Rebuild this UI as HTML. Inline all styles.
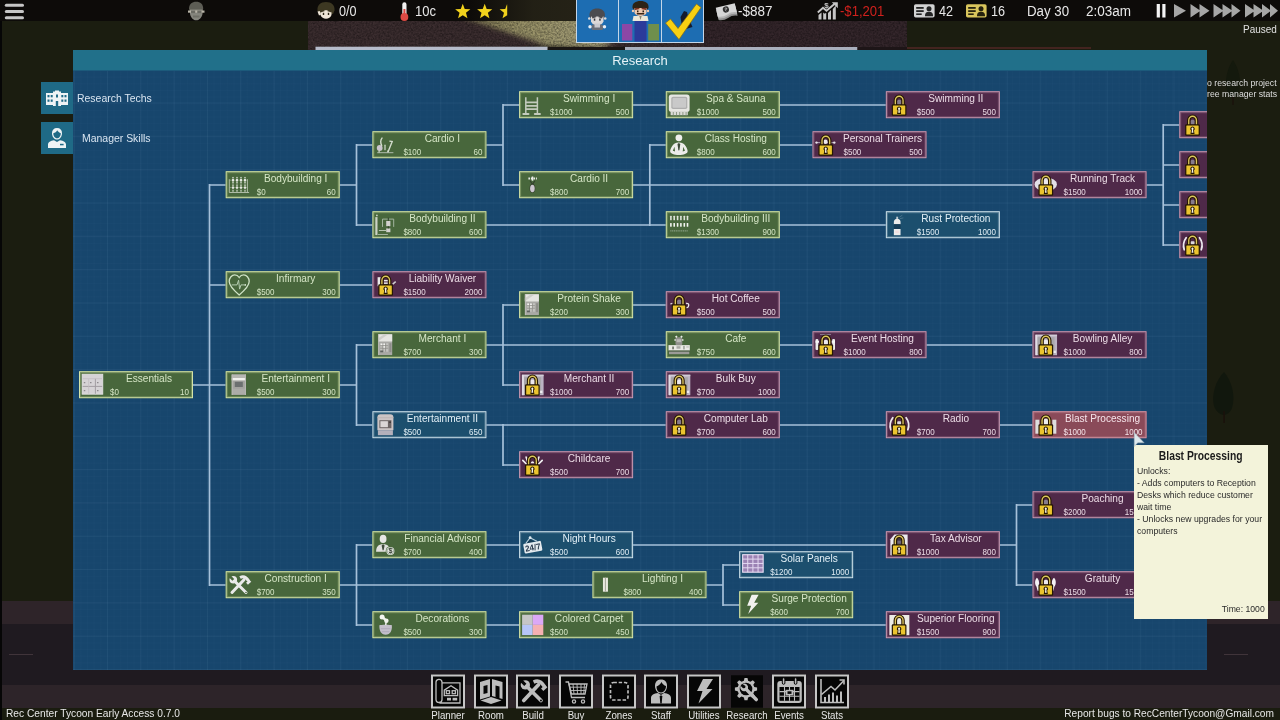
<!DOCTYPE html>
<html><head><meta charset="utf-8"><title>Rec Center Tycoon - Research</title>
<style>
*{margin:0;padding:0;box-sizing:border-box}
html,body{width:1280px;height:720px;overflow:hidden;background:#1b1d10;font-family:"Liberation Sans",sans-serif;}
.abs,.abs>*{position:absolute}
#root{will-change:transform;filter:blur(.35px);position:relative;width:1280px;height:720px;overflow:hidden;background:#1b1d10}
#root>*{position:absolute}
/* background bands */
.band{left:0;width:1280px}
/* top bar */
#topbar{left:0;top:0;width:1280px;height:21px;background:#0d0b09}
.tt{color:#e8e8e8;font-size:14px;line-height:16px;white-space:nowrap;transform-origin:0 0}
/* panel */
#panel{left:73px;top:50px;width:1134px;height:620px;overflow:hidden;background:#17466d}
#pin{position:absolute;left:-73px;top:-50px;width:1280px;height:720px}
#pin>*{position:absolute}
#ptitle{left:73px;top:50px;width:1134px;height:21px;background:#21708a;border-bottom:1px solid #1c5a7b;color:#e6f3f7;font-size:13px;line-height:21px;text-align:center}
#grid{left:73px;top:71px;width:1134px;height:599px;
 background-image:
  linear-gradient(to right,rgba(150,190,225,.06) 0,rgba(150,190,225,.06) 1px,transparent 1px),
  linear-gradient(to top,rgba(150,190,225,.06) 0,rgba(150,190,225,.06) 1px,transparent 1px),
  linear-gradient(to right,rgba(150,190,225,.02) 0,rgba(150,190,225,.02) 1px,transparent 1px),
  linear-gradient(to top,rgba(150,190,225,.02) 0,rgba(150,190,225,.02) 1px,transparent 1px);
 background-size:33.333px 33.333px,33.333px 33.333px,6.6667px 6.6667px,6.6667px 6.6667px;
 background-position:.7px 100%,0 100%,.7px 100%,0 100%;}
.n{position:absolute;left:0;top:0;width:113.7px;height:26.7px;white-space:nowrap}
.n::after{content:"";position:absolute;left:0;top:0;right:0;bottom:0;border:1px solid;}
.n>svg{position:absolute;left:0;top:0}
.n .t{position:absolute;left:26px;width:88px;top:2px;text-align:center;font-size:10px;line-height:12px;transform:scaleX(1.01)}
.n .c{position:absolute;left:30.5px;top:16px;font-size:9px;line-height:10px}
.n .r{position:absolute;right:4px;top:16px;font-size:9px;line-height:10px;text-align:right}
.n .c i{font-style:normal;display:inline-block;transform:scaleX(.89);transform-origin:0 50%}
.n .r i{font-style:normal;display:inline-block;transform:scaleX(.89);transform-origin:100% 50%}
.g{background:#48673c;color:#d6e6c6}
.g::after{border-color:#d4e4a8;box-shadow:inset 0 0 0 1px rgba(212,228,168,.3)}
.p{background:#4f2949;color:#ecdce6}
.p::after{border-color:#c79bb3;box-shadow:inset 0 0 0 1px rgba(199,155,179,.3)}
.h{background:#8a4a59;color:#f6e4ea}
.h::after{border-color:#cf93a2;box-shadow:inset 0 0 0 1px rgba(207,147,162,.3)}
.b{background:#1c4f6e;color:#e2eff6}
.b::after{border-color:#cfe2ec;box-shadow:inset 0 0 0 1px rgba(207,226,236,.3)}
/* side buttons */
.sb{left:41px;width:32px;height:32px;background:#1f6a86}
.sl{color:#d9e5f1;font-size:11px;line-height:12px;white-space:nowrap;transform:scaleX(.95);transform-origin:0 50%}
/* toolbar */
.tb{position:absolute;top:674px;transform:translateY(.5px);width:34px;height:34px;background:#060606;border:2px solid #c6c6c6}
.tb.sel{border-color:#060606;background:#060606;width:32px;height:32px;margin:1px 0 0 1px}.tb.sel>svg{left:-3px;top:-4.2px}
.tb>svg{position:absolute;left:-2px;top:-3.2px}
.tl{position:absolute;top:710px;width:60px;text-align:center;color:#e6e6e6;font-size:10px;line-height:12px;white-space:nowrap;transform:scaleX(.97)}
/* tooltip */
#tip{left:1134px;top:444.5px;width:133.5px;height:174px;background:#f3f3da;color:#222;font-size:9px}
#tip>*{position:absolute;white-space:nowrap}
.foot{color:#e6e6e6;font-size:11px;line-height:12px;white-space:nowrap}
</style></head>
<body>
<div id="root">
 <!-- background bands -->
 <div class="band" style="top:601px;height:23px;background:#2e2429"></div>
 <div class="band" style="top:624px;height:61px;background:#1f1a20"></div>
 <div class="band" style="top:685px;height:23px;background:#2d2429"></div>
 <div class="band" style="top:708px;height:12px;background:#1a1c0f"></div>
 <div style="left:0;top:0;width:2px;height:720px;background:#060606"></div>
 <div style="left:9px;top:653.5px;width:24px;height:1.5px;background:#40343a"></div>
 <div style="left:1224px;top:653.5px;width:24px;height:1.5px;background:#40343a"></div>
 <!-- world strip behind top -->
 <svg id="world" width="599" height="29" viewBox="0 0 599 29" style="left:308px;top:21px">
  <defs>
   <linearGradient id="lit" x1="0" x2="1" y1="0" y2="0"><stop offset="0" stop-color="#6f6848"/><stop offset=".4" stop-color="#979066"/><stop offset="1" stop-color="#a8a27c"/></linearGradient>
   <filter id="bl" x="-20%" y="-50%" width="140%" height="200%"><feGaussianBlur stdDeviation="4 2"/></filter>
   <filter id="nz" x="0" y="0" width="100%" height="100%"><feTurbulence type="fractalNoise" baseFrequency=".55" numOctaves="2" seed="4" result="n"/><feColorMatrix type="matrix" values="0 0 0 0 0  0 0 0 0 0  0 0 0 0 0  .9 .9 .9 0 -1.05"/></filter>
  </defs>
  <rect width="599" height="29" fill="#3b2d2f"/>
  <g filter="url(#bl)"><polygon points="152,-4 300,-4 300,26 244,26" fill="url(#lit)"/><polygon points="150,34 240,24 300,27 300,34" fill="#1c1512"/></g>
  <rect x="396" y="0" width="203" height="29" fill="#34262b"/>
  <rect width="599" height="29" filter="url(#nz)" fill="#000" opacity=".45"/>
  <rect x="7.500" y="25.700" width="232" height="3.300" fill="#b6bccb"/>
  <rect x="240" y="26" width="77" height="3" fill="#1a1614"/>
  <rect x="317" y="26" width="232.500" height="3" fill="#a9afbd"/>
  <rect x="549.500" y="26" width="50" height="3" fill="#1d1517"/>
 </svg>
 <div style="left:907px;top:47px;width:184px;height:2px;background:#43241f"></div>
 <div id="topbar"></div>
 <div style="left:470px;top:0;width:106px;height:21px;background:linear-gradient(to right,rgba(120,115,70,0),rgba(120,115,70,.2) 60%,rgba(120,115,70,.22))"></div>
 
 <svg width="26" height="22" viewBox="0 0 26 22" style="left:0;top:0"><g fill="#c6c6c6"><rect x="4.800" y="3.700" width="19.200" height="3" rx="1.500"/><rect x="4.800" y="10" width="19.200" height="3" rx="1.500"/><rect x="4.800" y="16.200" width="19.200" height="3" rx="1.500"/></g></svg>
 <svg width="20" height="22" viewBox="0 0 20 22" style="left:186px;top:0"><path d="M3 9c0-5 3-7.300 7.200-7.300s7 2.300 7 7.300l-1 3h-12z" fill="#5d5d55"/><path d="M4 9.500h12.500v4.500c-1 4-3.500 6.300-6.300 6.300S5 18 4 14z" fill="#85857d"/><path d="M2 10.500h16.500v2.200h-16.500z" fill="#b9b5a8"/><rect x="5" y="10.500" width="4.200" height="2.600" fill="#6a6a62"/><rect x="11.300" y="10.500" width="4.200" height="2.600" fill="#6a6a62"/><path d="M7 15.500h6.500v2h-6.500z" fill="#6f6f67"/></svg>
 <svg width="20" height="22" viewBox="0 0 20 22" style="left:316px;top:0"><path d="M1.500 10.500c-.5-5.500 3-8.500 8.500-8.500s9 3 8.500 8.500l-1.500 3.500h-14z" fill="#3d3822"/><path d="M4.500 11c3-1 8-1 11 0v4c-1 2.500-3 3.800-5.500 3.800S5.500 17.500 4.500 15z" fill="#efe6d8"/><path d="M1.500 11.500l2.500-.5 1 3.500-2 1z" fill="#efe6d8"/><path d="M3 9.500q3.500-1.500 6 1.500l-4.500 1.500zM17 9.500q-3.500-1.500-6 1.500l4.500 1.500z" fill="#3d3822"/><rect x="6.800" y="12.800" width="1.400" height="2.200" fill="#2b2616"/><rect x="11.800" y="12.800" width="1.400" height="2.200" fill="#2b2616"/></svg>
 <div class="tt" style="left:338.500px;top:3px;transform:scaleX(.9)">0/0</div>
 <svg width="14" height="22" viewBox="0 0 14 22" style="left:398px;top:0"><rect x="4.300" y="2.300" width="4.200" height="13" rx="2.100" fill="#f1f1f1"/><circle cx="6.400" cy="17" r="3.900" fill="#dc4a44"/><rect x="5.400" y="9" width="2" height="7" fill="#dc4a44"/></svg>
 <div class="tt" style="left:415px;top:3px;transform:scaleX(.93)">10c</div>
 <svg width="70" height="22" viewBox="0 0 70 22" style="left:450px;top:0"><polygon points="12.75,3.80 14.72,9.08 20.36,9.33 15.95,12.84 17.45,18.27 12.75,15.16 8.05,18.27 9.55,12.84 5.14,9.33 10.78,9.08" fill="#f2d21c"/><polygon points="34.70,3.80 36.67,9.08 42.31,9.33 37.90,12.84 39.40,18.27 34.70,15.16 30.00,18.27 31.50,12.84 27.09,9.33 32.73,9.08" fill="#f2d21c"/><clipPath id="hs"><rect x="45" y="0" width="12.200" height="22"/></clipPath><g clip-path="url(#hs)"><polygon points="57.20,3.80 59.17,9.08 64.81,9.33 60.40,12.84 61.90,18.27 57.20,15.16 52.50,18.27 54.00,12.84 49.59,9.33 55.23,9.08" fill="#f2d21c"/></g></svg>
 <!-- center tiles -->
 <div style="left:576px;top:0;width:128px;height:42.500px;background:#c4d6e8"></div>
 <div style="left:577px;top:0;width:41px;height:41.500px;background:#1d6db2"></div>
 <div style="left:619px;top:0;width:41.500px;height:41.500px;background:#1d6db2"></div>
 <div style="left:661.500px;top:0;width:41.500px;height:41.500px;background:#1d6db2"></div>
 <svg width="128" height="43" viewBox="0 0 128 43" style="left:576px;top:0">
  <g><path d="M13.500 16c-.5-5 3-7.500 7.700-7.500s8.200 2.500 7.700 7.500l-1.200 3h-13z" fill="#4b4b50"/><path d="M15 16.500h12.500v5c-1 2.500-3.500 4-6.200 4s-5.300-1.500-6.300-4z" fill="#dcd8d8"/><path d="M15.500 16q3-1.300 5 1l-4 1.500zM27 16q-3-1.300-5 1l4 1.500z" fill="#4b4b50"/><rect x="17.800" y="18.500" width="1.500" height="2.200" fill="#33333a"/><rect x="23.200" y="18.500" width="1.500" height="2.200" fill="#33333a"/><rect x="15.500" y="24.500" width="11.500" height="5.500" rx="1.500" fill="#6a6e78"/><rect x="18.500" y="23.500" width="5.500" height="4" fill="#c9c9cf"/><circle cx="14" cy="26.700" r="1.700" fill="#e8eef6"/><circle cx="28.500" cy="26.700" r="1.700" fill="#e8eef6"/><circle cx="13.300" cy="18.500" r="1.300" fill="#dcd8d8"/><circle cx="29.200" cy="18.500" r="1.300" fill="#dcd8d8"/></g>
  <g><rect x="46" y="24" width="10.300" height="16.500" fill="#8c47a6"/><rect x="58.500" y="21" width="12" height="20.500" fill="#2b3b9a"/><rect x="72.200" y="24" width="10.800" height="16.500" fill="#6f8f4c"/><path d="M56.500 8c-.5-5 3-7 8-7s8.500 2 8 7l-1 1.500h-14z" fill="#2c2316"/><path d="M58.500 8h12v5c-1 2-3 3-6 3s-5-1-6-3z" fill="#ecc9b0"/><path d="M58.500 8.500q3-1.500 5.500.5l-5 1zM70.500 8.500q-3-1.500-5.500.5l5 1z" fill="#7a3020"/><rect x="61" y="10.500" width="1.500" height="1.800" fill="#2c2316"/><rect x="66.500" y="10.500" width="1.500" height="1.800" fill="#2c2316"/><rect x="60.800" y="13" width="7.400" height="1.500" fill="#3a2414"/><path d="M57.500 16h14l1 5h-16z" fill="#ece8d8"/><path d="M63.300 16l1.200 4 1.200-4z" fill="#8a8470"/><circle cx="57" cy="11" r="1.200" fill="#ecc9b0"/><circle cx="72" cy="11" r="1.200" fill="#ecc9b0"/></g>
  <g><path d="M104.500 17l3.500-6 3 1 1.500 6 4 9-10 3z" fill="#131c30"/><path d="M89.500 23l5-4 7.500 9.500L120.500 4l4.500 3.500-22 32z" fill="#f8d012" stroke="#8a6d10" stroke-width=".7"/></g>
 </svg>
 <!-- money -->
 <svg width="26" height="22" viewBox="0 0 26 22" style="left:714px;top:0"><g transform="rotate(-13 13 12)"><path d="M3 9.500h19.500v8.500q-5-2-9.750 0t-9.750 0z" fill="#8e8e8e"/><path d="M3 7.700h19.500v8.500q-5-2-9.750 0t-9.750 0z" fill="#b5b5b5"/><path d="M3 5.300h19.500v9.200q-5-2-9.750 0t-9.750 0z" fill="#d6d6d6"/><circle cx="12.500" cy="9.300" r="3.100" fill="#2f2f2f"/><path d="M11.500 8.300q1.500-1 2 0t-1 1 0 1.500" fill="none" stroke="#bdbdbd" stroke-width=".8"/></g></svg>
 <div class="tt" style="left:738px;top:3px;transform:scaleX(.96)">-$887</div>
 <svg width="24" height="22" viewBox="0 0 24 22" style="left:816px;top:0"><g fill="#c6c6c6"><path d="M2.500 15l3-2.500v7h-3z"/><path d="M7.200 12.500l1.500 1.200 1.500-1v6.800h-3z"/><path d="M12 13l3-3v9.500h-3z"/><path d="M16.800 9l3-3.500v14h-3z"/></g><path d="M1.800 12.500l5.200-4.700 3.500 3L19 3.500" stroke="#c6c6c6" stroke-width="1.900" fill="none"/><path d="M15.800 2.200h6v6z" fill="#c6c6c6"/><text x="10.500" y="8" font-size="8" font-weight="bold" font-family="Liberation Sans" fill="#c6c6c6" text-anchor="middle">$</text></svg>
 <div class="tt" style="left:840px;top:3px;color:#cf211d;transform:scaleX(.935)">-$1,201</div>
 <svg width="24" height="22" viewBox="0 0 24 22" style="left:913px;top:0"><rect x="1" y="4.200" width="20.600" height="13.300" rx="1.700" fill="#d2d2d2"/><g fill="#242424"><rect x="3.200" y="7" width="7.500" height="1.800"/><rect x="3.200" y="10.200" width="7.500" height="1.800"/><rect x="3.200" y="13.400" width="5.500" height="1.600"/><circle cx="16" cy="8.700" r="2.500"/><path d="M12 16.200c0-3.500 1.500-4.500 4-4.500s4 1 4 4.500z"/></g></svg>
 <div class="tt" style="left:939px;top:3px;transform:scaleX(.9)">42</div>
 <svg width="24" height="22" viewBox="0 0 24 22" style="left:965px;top:0"><rect x="1" y="4.200" width="20.600" height="13.300" rx="1.700" fill="#d9c55c"/><g fill="#26220e"><rect x="3.200" y="7" width="7.500" height="1.800"/><rect x="3.200" y="10.200" width="7.500" height="1.800"/><rect x="3.200" y="13.400" width="5.500" height="1.600"/><circle cx="16" cy="8.700" r="2.500"/><path d="M12 16.200c0-3.500 1.500-4.500 4-4.500s4 1 4 4.500z"/></g></svg>
 <div class="tt" style="left:991px;top:3px;transform:scaleX(.9)">16</div>
 <div class="tt" style="left:1026.500px;top:3px;transform:scaleX(.95)">Day 30</div>
 <div class="tt" style="left:1085.500px;top:3px;transform:scaleX(.965)">2:03am</div>
 <svg width="126" height="22" viewBox="0 0 126 22" style="left:1154px;top:0"><rect x="2.700" y="4" width="3.200" height="13.500" fill="#f4f4f4"/><rect x="8.300" y="4" width="3.200" height="13.500" fill="#f4f4f4"/><g fill="#a6a6a6"><path d="M20 4v13.500l12-6.750z"/><path d="M36.500 4v13.500l10-6.750zM45.500 4v13.500l10-6.750z"/><path d="M59.500 4v13.500l10-6.750zM68.500 4v13.500l10-6.750zM77.500 4v13.500l9-6.750z"/><path d="M91 4v13.500l10-6.750zM99.500 4v13.500l10-6.750zM108 4v13.500l9-6.750zM116 4v13.500l8-6.750z"/></g></svg>
 <div class="foot" style="left:1243px;top:23px;font-size:10.500px;color:#e0e0e0;transform:scaleX(.95);transform-origin:0 0">Paused</div>

 <!-- right side world bits -->
 <svg width="30" height="56" viewBox="0 0 30 56" style="left:1209px;top:369px"><path d="M15 3C22 11 27 26 23 39 21 44 17 46 15 46 12 46 7 43 5 37 2 26 7 11 15 3z" fill="#11170d"/><rect x="14.300" y="42" width="1.600" height="12" fill="#1a120c"/></svg>
 
 <svg width="24" height="50" viewBox="0 0 24 50" style="left:1221px;top:58px"><path d="M12 2C17 9 21 22 18 33 17 38 14 40 12 40 10 40 7 38 6 33 3 22 7 9 12 2z" fill="#14190d"/><rect x="11.300" y="38" width="1.400" height="9" fill="#1a120c"/></svg>
 <div class="foot" style="left:1207px;top:77px;font-size:9.5px;line-height:11px;color:#dedede;transform:scaleX(.915);transform-origin:0 0">o research project<br>ree manager stats</div>
 <!-- side buttons -->
 <div class="sb" style="top:82px"><svg width="32" height="32" viewBox="0 0 32 32"><g fill="#eef3f5"><rect x="5" y="11" width="8" height="12"/><rect x="19" y="11" width="8" height="12"/><path d="M12 9.500h8v14.500h-8z"/><rect x="14" y="8.500" width="4" height="2"/></g><g fill="#1f6a86"><rect x="6.500" y="13" width="2" height="2.300"/><rect x="9.700" y="13" width="2" height="2.300"/><rect x="6.500" y="17.500" width="2" height="2.300"/><rect x="9.700" y="17.500" width="2" height="2.300"/><rect x="20.300" y="13" width="2" height="2.300"/><rect x="23.500" y="13" width="2" height="2.300"/><rect x="20.300" y="17.500" width="2" height="2.300"/><rect x="23.500" y="17.500" width="2" height="2.300"/><rect x="15" y="12.500" width="2" height="3"/><rect x="14.800" y="19" width="2.400" height="5"/></g></svg></div>
 <div class="sb" style="top:122px"><svg width="32" height="32" viewBox="0 0 32 32"><path d="M16 6c-3.200 0-5 2-5 5.200s2 6.300 5 6.300 5-3.100 5-6.300S19.200 6 16 6z" fill="#eef3f5"/><path d="M12.300 11.300c1.800-.3 3.300-1.600 3.900-3 .9 1.500 2.100 2.500 3.600 2.900 0 2.800-1.600 5.100-3.800 5.100s-3.700-2.400-3.700-5z" fill="#1f6a86"/><path d="M7 26v-3.500c0-2.500 2.500-3.800 6-4.300l3 1.800 3-1.800c3.500.5 6 1.800 6 4.300V26z" fill="#eef3f5"/><rect x="19" y="21.800" width="3.600" height="1.500" fill="#1f6a86"/></svg></div>
 <!-- panel -->
 <div id="panel"><div id="pin">
  <div id="ptitle">Research</div>
  <div id="grid"></div>
  <svg width="1280" height="720" viewBox="0 0 1280 720" style="left:0;top:0"><path d="M192.7 385H209.5M209.5 184V586M209.5 185H225.7M209.5 285H225.7M209.5 385H225.7M209.5 585H225.7M339.4 185H356.5M356.5 144V226M356.5 145H372.4M356.5 225H372.4M486.09999999999997 145H503M503 104V186M503 105H519.1M503 185H519.1M632.8000000000001 105H665.8M779.5 105H885.85M632.8000000000001 185H1032.55M649.8 144V226M649.8 145H665.8M649.8 225H665.8M486.09999999999997 225H665.8M779.5 145H812.5M779.5 225H885.85M1146.25 185H1163.2M1163.2 124V246M1163.2 125H1179.25M1163.2 165H1179.25M1163.2 205H1179.25M1163.2 245H1179.25M339.4 285H372.4M339.4 385H356.5M356.5 344V426M356.5 345H372.4M356.5 425H372.4M486.09999999999997 345H665.8M503 304V386M503 305H519.1M503 385H519.1M632.8000000000001 305H665.8M632.8000000000001 385H665.8M779.5 345H812.5M926.2 345H1032.55M486.09999999999997 425H665.8M503 424V466M503 465H519.1M779.5 425H885.85M999.5500000000001 425H1032.55M339.4 585H592.45M356.5 544V626M356.5 545H372.4M356.5 625H372.4M486.09999999999997 545H519.1M632.8000000000001 545H885.85M999.5500000000001 545H1016.5M1016.5 504V586M1016.5 505H1032.55M1016.5 585H1032.55M486.09999999999997 625H519.1M632.8000000000001 625H885.85M706.1500000000001 585H723M723 564V606M723 565H739.15M723 605H739.15" fill="none" stroke="#a6c1da" stroke-width="1.700"/></svg>
<div class="n g" style="transform:translate(79.0px,371.2px)"><svg width="30" height="27" viewBox="0 0 30 27"><rect x="3.100" y="3" width="20.700" height="20" fill="#d6d3d6"/><path d="M3.100 15.200h20.700M16.400 7.500v15.500" stroke="#a39da3" stroke-width="1"/><path d="M9.700 8v15M3.100 7.500h20.700" stroke="#c3bec3" stroke-width=".8"/><path d="M4.800 11.500h1.500M11 11.500h1.500M18 11.500h1.500M4.800 19.500h1.500M18 19.500h1.500" stroke="#7d787d" stroke-width="1"/><rect x="3.100" y="3" width="20.700" height="20" fill="none" stroke="#e6e4e6" stroke-width=".8"/></svg><span class="t">Essentials</span><span class="c"><i>$0</i></span><span class="r"><i>10</i></span></div>
<div class="n g" style="transform:translate(225.7px,171.2px)"><svg width="30" height="27" viewBox="0 0 30 27"><g stroke="#b9c4b1" stroke-width=".9" fill="none"><path d="M3.600 8v13.300M21.700 8v13.300M3.600 21.300h19.800"/><path d="M7.300 5.500v15M11.300 5.500v15M15.300 5.500v15M19.300 5.500v15" opacity=".45"/></g><g fill="#c7d0c0"><rect x="6.5" y="5.9" width="1.600" height="1.200"/><rect x="10.5" y="5.9" width="1.600" height="1.200"/><rect x="14.5" y="5.9" width="1.600" height="1.200"/><rect x="18.5" y="5.9" width="1.600" height="1.200"/><rect x="6.5" y="10.9" width="1.600" height="1.200"/><rect x="10.5" y="10.9" width="1.600" height="1.200"/><rect x="14.5" y="10.9" width="1.600" height="1.200"/><rect x="18.5" y="10.9" width="1.600" height="1.200"/><rect x="6.5" y="13.4" width="1.600" height="1.200"/><rect x="10.5" y="13.4" width="1.600" height="1.200"/><rect x="14.5" y="13.4" width="1.600" height="1.200"/><rect x="18.5" y="13.4" width="1.600" height="1.200"/><rect x="6.5" y="19.1" width="1.600" height="1.200"/><rect x="10.5" y="19.1" width="1.600" height="1.200"/><rect x="14.5" y="19.1" width="1.600" height="1.200"/><rect x="18.5" y="19.1" width="1.600" height="1.200"/></g><g fill="#f1f3ee"><rect x="6.3" y="7.9" width="2" height="2.300" rx=".6"/><rect x="10.3" y="7.9" width="2" height="2.300" rx=".6"/><rect x="14.3" y="7.9" width="2" height="2.300" rx=".6"/><rect x="18.3" y="7.9" width="2" height="2.300" rx=".6"/><rect x="6.3" y="15.2" width="2" height="2.300" rx=".6"/><rect x="10.3" y="15.2" width="2" height="2.300" rx=".6"/><rect x="14.3" y="15.2" width="2" height="2.300" rx=".6"/><rect x="18.3" y="15.2" width="2" height="2.300" rx=".6"/></g><path d="M4 9h17.500M4 16.300h17.500" stroke="#cfd6c9" stroke-width=".8" opacity=".5"/></svg><span class="t">Bodybuilding I</span><span class="c"><i>$0</i></span><span class="r"><i>60</i></span></div>
<div class="n g" style="transform:translate(225.7px,271.2px)"><svg width="30" height="27" viewBox="0 0 30 27"><path d="M13.500 23.700C6.500 17.800 3.500 14.300 3.500 10.300 3.500 6.300 6.300 3.700 9 3.700c2.100 0 3.500 1 4.500 2.600 1-1.600 2.400-2.600 4.500-2.600 2.700 0 5.500 2.600 5.500 6.600 0 4-3 7.500-10 13.400z" fill="none" stroke="#cfe2c6" stroke-width="1.300"/><path d="M6 13.700h5.300l1.600-4.700 1 8.900 1.400-4.200h3.200" fill="none" stroke="#b4ccb0" stroke-width="1"/><circle cx="19.500" cy="13.700" r=".9" fill="#dcebd6"/></svg><span class="t">Infirmary</span><span class="c"><i>$500</i></span><span class="r"><i>300</i></span></div>
<div class="n g" style="transform:translate(225.7px,371.2px)"><svg width="30" height="27" viewBox="0 0 30 27"><rect x="6" y="3.300" width="14.200" height="20.500" fill="#a3a39f"/><rect x="6" y="3.300" width="14.200" height="3.500" fill="#b7b7b3"/><rect x="6" y="6.800" width="14.200" height="2.400" fill="#f1f1ed"/><rect x="9.100" y="10.600" width="8" height="5.200" fill="#6c7070"/><rect x="7" y="17.500" width="12.200" height="5.300" fill="#acaca8"/><rect x="6" y="3.300" width="1" height="20.500" fill="#b9b9b5"/><rect x="19.200" y="3.300" width="1" height="20.500" fill="#b9b9b5"/></svg><span class="t">Entertainment I</span><span class="c"><i>$500</i></span><span class="r"><i>300</i></span></div>
<div class="n g" style="transform:translate(225.7px,571.2px)"><svg width="30" height="27" viewBox="0 0 30 27"><g stroke="#e9e9e9" stroke-linecap="round" fill="none"><path d="M6.300 21.300L18.300 8.500" stroke-width="3"/><path d="M10.300 11.300L20.300 21.300" stroke-width="3"/><path d="M14.300 6.300Q19.300 3.800 23 9.800" stroke-width="2.900" stroke-linecap="butt"/><path d="M21.300 12.600L24.600 9.500" stroke-width="2.700" stroke-linecap="butt"/></g><circle cx="7.600" cy="8.600" r="3.800" fill="#e9e9e9"/><path d="M2.300 3.300L7.600 8.600" stroke="#48683c" stroke-width="2.500"/><circle cx="20.300" cy="21.300" r=".8" fill="#48683c"/></svg><span class="t">Construction I</span><span class="c"><i>$700</i></span><span class="r"><i>350</i></span></div>
<div class="n g" style="transform:translate(372.4px,131.2px)"><svg width="30" height="27" viewBox="0 0 30 27"><circle cx="7.300" cy="16.800" r="2.900" fill="#cbc6ce"/><g stroke="#d3dccd" fill="none" stroke-width="1.400" stroke-linecap="round"><path d="M9.300 14.300Q7.200 10 9.600 6.900"/><path d="M15.700 20.500L19.800 10.400l-2.300-.5"/><path d="M12.600 14v4.500" stroke-width="1.200"/><path d="M6.700 19.600v1.600M15.500 19.600v1.600" stroke-width="1.200"/></g><path d="M4.800 21.500H21" stroke="#aebbaa" stroke-width="1"/></svg><span class="t">Cardio I</span><span class="c"><i>$100</i></span><span class="r"><i>60</i></span></div>
<div class="n g" style="transform:translate(372.4px,211.2px)"><svg width="30" height="27" viewBox="0 0 30 27"><rect x="2.900" y="5.900" width="2.200" height="18" fill="#ccd4c6"/><circle cx="4.500" cy="4.200" r=".9" fill="#ccd4c6"/><path d="M10.100 15.700V7.900H21.300V15.700" fill="none" stroke="#a3b59f" stroke-width="1"/><rect x="13.800" y="9.700" width="4.200" height="5.300" fill="#d2d2ce"/><rect x="13.800" y="17.200" width="4.200" height="3.800" fill="#d2d2ce"/><path d="M15.900 6.500v3.200M15.900 15v2.200" stroke="#2e3f28" stroke-width="1"/><path d="M6.500 19.300h7.300" stroke="#b5c4b0" stroke-width="1.200"/><path d="M5.500 23.300h10" stroke="#9fb09b" stroke-width="1"/></svg><span class="t">Bodybuilding II</span><span class="c"><i>$800</i></span><span class="r"><i>600</i></span></div>
<div class="n p" style="transform:translate(372.4px,271.2px)"><svg width="30" height="27" viewBox="0 0 30 27"><rect x="5.200" y="6" width="3" height="9" fill="#e9e9e9"/><path d="M20.300 13l3-2.500" stroke="#cfcfcf" stroke-width="1.500"/><rect x="11.500" y="8.700" width="4" height="1.500" fill="#e9e9e9"/><rect x="11.500" y="11.200" width="4" height="1.500" fill="#e9e9e9"/><g><path d="M9.500 14.500V9.200a3.850 4.200 0 0 1 7.700 0V14.500" fill="none" stroke="#261803" stroke-width="3.500"/><path d="M9.500 14.500V9.200a3.850 4.200 0 0 1 7.700 0V14.500" fill="none" stroke="#dcc55e" stroke-width="1.350"/><rect x="5.900" y="13.100" width="14.700" height="11.400" rx="1.300" fill="#261803"/><rect x="7.100" y="14.300" width="12.300" height="9" rx=".5" fill="#ebc42f"/><path d="M13.250 15.200a2.300 2.300 0 0 1 1.450 4.050l.6 3.450h-4.100l.6-3.450a2.300 2.300 0 0 1 1.450-4.050z" fill="#261803"/><path d="M13.250 16.400a1.100 1.100 0 0 1 .55 2.050l.35 3.050h-1.800l.35-3.050a1.100 1.100 0 0 1 .55-2.050z" fill="#f6f2e2"/></g></svg><span class="t">Liability Waiver</span><span class="c"><i>$1500</i></span><span class="r"><i>2000</i></span></div>
<div class="n g" style="transform:translate(372.4px,331.2px)"><svg width="30" height="27" viewBox="0 0 30 27"><rect x="5.800" y="3" width="14" height="20.900" fill="#a9a9a5"/><path d="M5.800 3h14v7.300h-14z" fill="#e6e6e2"/><path d="M5.800 7l6-4h4l-10 7z" fill="#cfcfcb"/><rect x="7.800" y="12" width="8" height="8.500" fill="#c3c3bf"/><path d="M7.800 14.500h8M7.800 17h8M10.500 12v8.500M13.200 12v8.500" stroke="#8a8a86" stroke-width=".8"/><rect x="8.300" y="12.400" width="1.700" height="1.500" fill="#f3f3f0"/><rect x="11" y="12.400" width="1.700" height="1.500" fill="#f3f3f0"/><rect x="11" y="15" width="1.700" height="1.500" fill="#f3f3f0"/><rect x="17" y="12" width="2" height="9" fill="#8e8e8a"/><rect x="7.800" y="19.300" width="3" height="1.800" fill="#5f6460"/><rect x="5.800" y="3" width=".9" height="20.900" fill="#bdbdb9"/></svg><span class="t">Merchant I</span><span class="c"><i>$700</i></span><span class="r"><i>300</i></span></div>
<div class="n b" style="transform:translate(372.4px,411.2px)"><svg width="30" height="27" viewBox="0 0 30 27"><path d="M5 6q0-3 3-3h10q3 0 3 3v13h-16z" fill="#cbc4c4"/><rect x="5.500" y="19" width="15" height="5" fill="#b4b0bb"/><rect x="7" y="9" width="12" height="8" fill="#6d6565"/><rect x="8" y="10" width="7.500" height="6" fill="#dbd6d6"/><circle cx="17.700" cy="11" r=".9" fill="#3e3838"/><path d="M5 6.500h16" stroke="#b9b1b1" stroke-width=".8"/></svg><span class="t">Entertainment II</span><span class="c"><i>$500</i></span><span class="r"><i>650</i></span></div>
<div class="n g" style="transform:translate(372.4px,531.2px)"><svg width="30" height="27" viewBox="0 0 30 27"><ellipse cx="10.700" cy="7.700" rx="3.400" ry="4.100" fill="#e6e6e4"/><path d="M3.700 20.500c0-5 2-7.500 7-7.500s7 2.500 7 7.500z" fill="#e0e0de"/><path d="M10.700 13l-1.500 1.300 1 4.700h1l1-4.700z" fill="#3f4a3c"/><circle cx="18" cy="19.700" r="4.700" fill="#48683c"/><circle cx="18" cy="19.700" r="4" fill="#eef0ea"/><circle cx="18" cy="19.700" r="3.300" fill="none" stroke="#59705a" stroke-width=".5"/><text x="18" y="22.300" font-size="7.200" font-family="Liberation Sans" font-weight="bold" text-anchor="middle" fill="#2f3a2c">$</text></svg><span class="t">Financial Advisor</span><span class="c"><i>$700</i></span><span class="r"><i>400</i></span></div>
<div class="n g" style="transform:translate(372.4px,611.2px)"><svg width="30" height="27" viewBox="0 0 30 27"><path d="M7 14c1-.7 11.500-.7 12.500 0 .3 5-1.500 9.500-6.250 9.500S6.700 19 7 14z" fill="#c3bfca"/><path d="M8.500 17.500h9.500M9.500 20.500h7.500" stroke="#a9a4b4" stroke-width=".8"/><path d="M13.300 14l.5-4" stroke="#e9ede4" stroke-width="1.500"/><path d="M9.800 5.700l4.300 4" stroke="#f1f4ee" stroke-width="2.400" stroke-linecap="round"/><circle cx="9.700" cy="5.700" r="2.500" fill="#f4f6f1"/><circle cx="14" cy="9.600" r="2.200" fill="#f0f3ec"/></svg><span class="t">Decorations</span><span class="c"><i>$500</i></span><span class="r"><i>300</i></span></div>
<div class="n g" style="transform:translate(519.1px,91.2px)"><svg width="30" height="27" viewBox="0 0 30 27"><g stroke="#c3cabd" fill="none"><path d="M6.700 6v17M18.300 6v17" stroke-width="1.500"/><path d="M6.700 11.200h11.600M6.700 14.600h11.600M6.700 18h11.600" stroke-width="1.800"/><path d="M4.300 22.800h5M15.800 22.800h5" stroke-width="2.200" stroke-linecap="round"/></g></svg><span class="t">Swimming I</span><span class="c"><i>$1000</i></span><span class="r"><i>500</i></span></div>
<div class="n g" style="transform:translate(519.1px,171.2px)"><svg width="30" height="27" viewBox="0 0 30 27"><path d="M9.300 7.400h8.500" stroke="#e9ece6" stroke-width="2" stroke-dasharray="1.600 .9"/><path d="M13.400 5.200v4.400" stroke="#e9ece6" stroke-width="1.600"/><path d="M11 9.500l2.400 3.700 2.400-3.700" fill="none" stroke="#33402e" stroke-width="1.100"/><ellipse cx="13.300" cy="17.200" rx="2.900" ry="4.400" fill="#36422f"/><ellipse cx="13.300" cy="17.300" rx="2.300" ry="3.800" fill="#cbc7cf"/></svg><span class="t">Cardio II</span><span class="c"><i>$800</i></span><span class="r"><i>700</i></span></div>
<div class="n g" style="transform:translate(519.1px,291.2px)"><svg width="30" height="27" viewBox="0 0 30 27"><rect x="5.800" y="3" width="14" height="20.900" fill="#a9a9a5"/><path d="M5.800 3h14v7.300h-14z" fill="#e6e6e2"/><path d="M5.800 7l6-4h4l-10 7z" fill="#cfcfcb"/><rect x="7.800" y="12" width="8" height="8.500" fill="#c3c3bf"/><path d="M7.800 14.500h8M7.800 17h8M10.500 12v8.500M13.200 12v8.500" stroke="#8a8a86" stroke-width=".8"/><rect x="8.300" y="12.400" width="1.700" height="1.500" fill="#f3f3f0"/><rect x="11" y="12.400" width="1.700" height="1.500" fill="#f3f3f0"/><rect x="11" y="15" width="1.700" height="1.500" fill="#f3f3f0"/><rect x="17" y="12" width="2" height="9" fill="#8e8e8a"/><rect x="7.800" y="19.300" width="3" height="1.800" fill="#5f6460"/><rect x="5.800" y="3" width=".9" height="20.900" fill="#bdbdb9"/></svg><span class="t">Protein Shake</span><span class="c"><i>$200</i></span><span class="r"><i>300</i></span></div>
<div class="n p" style="transform:translate(519.1px,371.2px)"><svg width="30" height="27" viewBox="0 0 30 27"><rect x="2.800" y="3.500" width="21.700" height="20.500" fill="#bcb3c3"/><rect x="2.800" y="3.500" width="2" height="20.500" fill="#e1dce4"/><rect x="4.800" y="3.500" width="19.700" height="1.500" fill="#d2ccd6"/><rect x="5" y="6" width="4.500" height="17" fill="#a6a4a8"/><rect x="18.800" y="6" width="3.200" height="17" fill="#a9a7ab"/><rect x="21" y="19.500" width="2.300" height="2.300" fill="#eeecef"/><rect x="11.300" y="8.500" width="4.200" height="5" rx="1.500" fill="#ece8ee"/><g><path d="M9.500 14.500V9.200a3.850 4.200 0 0 1 7.700 0V14.500" fill="none" stroke="#261803" stroke-width="3.500"/><path d="M9.500 14.500V9.200a3.850 4.200 0 0 1 7.700 0V14.500" fill="none" stroke="#dcc55e" stroke-width="1.350"/><rect x="5.900" y="13.100" width="14.700" height="11.400" rx="1.300" fill="#261803"/><rect x="7.100" y="14.300" width="12.300" height="9" rx=".5" fill="#ebc42f"/><path d="M13.250 15.200a2.300 2.300 0 0 1 1.450 4.050l.6 3.450h-4.100l.6-3.450a2.300 2.300 0 0 1 1.450-4.050z" fill="#261803"/><path d="M13.250 16.400a1.100 1.100 0 0 1 .55 2.050l.35 3.050h-1.800l.35-3.050a1.100 1.100 0 0 1 .55-2.050z" fill="#f6f2e2"/></g></svg><span class="t">Merchant II</span><span class="c"><i>$1000</i></span><span class="r"><i>700</i></span></div>
<div class="n p" style="transform:translate(519.1px,451.2px)"><svg width="30" height="27" viewBox="0 0 30 27"><g stroke="#f0eef0" stroke-width="1.700" stroke-linecap="round"><path d="M3.700 9.200l3.600 3.600M7 5.800l1.300 4M23.100 9.200l-3.600 3.600M19.800 5.800l-1.300 4"/></g><path d="M11.300 12q2.100-4 4.200 0z" fill="#f0eef0"/><g><path d="M9.500 14.500V9.200a3.850 4.200 0 0 1 7.700 0V14.500" fill="none" stroke="#261803" stroke-width="3.500"/><path d="M9.500 14.500V9.200a3.850 4.200 0 0 1 7.700 0V14.500" fill="none" stroke="#dcc55e" stroke-width="1.350"/><rect x="5.900" y="13.100" width="14.700" height="11.400" rx="1.300" fill="#261803"/><rect x="7.100" y="14.300" width="12.300" height="9" rx=".5" fill="#ebc42f"/><path d="M13.250 15.200a2.300 2.300 0 0 1 1.450 4.050l.6 3.450h-4.100l.6-3.450a2.300 2.300 0 0 1 1.450-4.050z" fill="#261803"/><path d="M13.250 16.400a1.100 1.100 0 0 1 .55 2.050l.35 3.050h-1.800l.35-3.050a1.100 1.100 0 0 1 .55-2.050z" fill="#f6f2e2"/></g></svg><span class="t">Childcare</span><span class="c"><i>$500</i></span><span class="r"><i>700</i></span></div>
<div class="n b" style="transform:translate(519.1px,531.2px)"><svg width="30" height="27" viewBox="0 0 30 27"><path d="M6.800 12.200L11 6.500l6.700 3.600" stroke="#b9cdd8" fill="none" stroke-width="1.100"/><circle cx="11" cy="6.500" r="1.400" fill="#dfeaf0"/><path d="M7.500 12.400l3.500-4.200 5.500 2.500z" fill="#173c55"/><g transform="rotate(-10.500 13.700 16)"><rect x="4.700" y="11" width="18" height="10" rx="1.300" fill="#e4eaee"/><text x="13.700" y="19.300" font-size="8.500" font-weight="bold" font-family="Liberation Sans" text-anchor="middle" fill="#27384a" textLength="15.500" lengthAdjust="spacingAndGlyphs">24/7</text></g></svg><span class="t">Night Hours</span><span class="c"><i>$500</i></span><span class="r"><i>600</i></span></div>
<div class="n g" style="transform:translate(519.1px,611.2px)"><svg width="30" height="27" viewBox="0 0 30 27"><rect x="3" y="3.500" width="10.600" height="10.200" fill="#c6c6c6"/><rect x="13.600" y="3.500" width="10.600" height="10.200" fill="#dba8f6"/><rect x="3" y="13.700" width="10.600" height="10.200" fill="#b6c6f8"/><rect x="13.600" y="13.700" width="10.600" height="10.200" fill="#f5b0b2"/></svg><span class="t">Colored Carpet</span><span class="c"><i>$500</i></span><span class="r"><i>450</i></span></div>
<div class="n g" style="transform:translate(592.45px,571.2px)"><svg width="30" height="27" viewBox="0 0 30 27"><rect x="10.500" y="6.500" width="5" height="14" fill="#e9e9df"/><path d="M13 6.500v14" stroke="#a9a99e" stroke-width="1.100"/></svg><span class="t">Lighting I</span><span class="c"><i>$800</i></span><span class="r"><i>400</i></span></div>
<div class="n g" style="transform:translate(665.8px,91.2px)"><svg width="30" height="27" viewBox="0 0 30 27"><rect x="3" y="3.400" width="20.800" height="17.200" rx="2.600" fill="#e6e6e2"/><rect x="4.800" y="19.800" width="17.200" height="4.200" fill="#dadad6"/><path d="M7.500 20.800v3.200M10.700 20.800v3.200M13.900 20.800v3.200M17.100 20.800v3.200M20.300 20.800v3.200" stroke="#8e9a86" stroke-width="1"/><rect x="5.500" y="5.500" width="16" height="12.300" rx="1.800" fill="#aeaeae"/><rect x="6.700" y="6.700" width="13.600" height="9.900" rx="1" fill="#c9c9c9"/></svg><span class="t">Spa &amp; Sauna</span><span class="c"><i>$1000</i></span><span class="r"><i>500</i></span></div>
<div class="n g" style="transform:translate(665.8px,131.2px)"><svg width="30" height="27" viewBox="0 0 30 27"><circle cx="13.100" cy="6.600" r="3.400" fill="#efefec"/><path d="M13.100 11.300c3.500 0 5.500 1.300 7 4 1.300 2.300 2 4 1.700 5.200-.5 1.700-3.700 3.200-8.700 3.200s-8.200-1.500-8.700-3.200c-.3-1.200.4-2.900 1.700-5.200 1.500-2.700 3.500-4 7-4z" fill="#ececea"/><path d="M13.100 11.700l-1.400 1 .8 5.800.6 1 .6-1 .8-5.800z" fill="#3d4a3a"/><path d="M8.700 15.500l-1.700 4 2.300.8zM17.500 15.500l1.700 4-2.300.8z" fill="#48683c"/></svg><span class="t">Class Hosting</span><span class="c"><i>$800</i></span><span class="r"><i>600</i></span></div>
<div class="n g" style="transform:translate(665.8px,211.2px)"><svg width="30" height="27" viewBox="0 0 30 27"><g fill="#dfe4da"><rect x="4.3" y="4.600" width="1.600" height="4.400" rx=".5"/><rect x="7.6" y="4.600" width="1.600" height="4.400" rx=".5"/><rect x="11" y="4.600" width="1.600" height="4.400" rx=".5"/><rect x="14.3" y="4.600" width="1.600" height="4.400" rx=".5"/><rect x="17.7" y="4.600" width="1.600" height="4.400" rx=".5"/><rect x="20.9" y="4.600" width="1.600" height="4.400" rx=".5"/></g><g fill="#f4f5f1"><rect x="4.3" y="11.900" width="1.600" height="3.600" rx=".5"/><rect x="7.6" y="11.900" width="1.600" height="3.600" rx=".5"/><rect x="11" y="11.900" width="1.600" height="3.600" rx=".5"/><rect x="14.3" y="11.900" width="1.600" height="3.600" rx=".5"/><rect x="17.7" y="11.900" width="1.600" height="3.600" rx=".5"/><rect x="20.9" y="11.900" width="1.600" height="3.600" rx=".5"/></g><path d="M4.500 19.700h17.500" stroke="#9aad96" stroke-width="1" stroke-dasharray="1.200 .6"/></svg><span class="t">Bodybuilding III</span><span class="c"><i>$1300</i></span><span class="r"><i>900</i></span></div>
<div class="n p" style="transform:translate(665.8px,291.2px)"><svg width="30" height="27" viewBox="0 0 30 27"><path d="M20.300 12.300q3-.5 2.600 2t-2.600 2" fill="none" stroke="#e9e5ea" stroke-width="1.300"/><path d="M4.500 12.800l2-.6" stroke="#d9d5da" stroke-width="1.200"/><rect x="11.300" y="8.500" width="4.200" height="5" rx="1.500" fill="#857b8d"/><g><path d="M9.500 14.500V9.200a3.850 4.200 0 0 1 7.700 0V14.500" fill="none" stroke="#261803" stroke-width="3.500"/><path d="M9.500 14.500V9.200a3.850 4.200 0 0 1 7.700 0V14.500" fill="none" stroke="#dcc55e" stroke-width="1.350"/><rect x="5.900" y="13.100" width="14.700" height="11.400" rx="1.300" fill="#261803"/><rect x="7.100" y="14.300" width="12.300" height="9" rx=".5" fill="#ebc42f"/><path d="M13.250 15.200a2.300 2.300 0 0 1 1.450 4.050l.6 3.450h-4.100l.6-3.450a2.300 2.300 0 0 1 1.450-4.050z" fill="#261803"/><path d="M13.250 16.400a1.100 1.100 0 0 1 .55 2.050l.35 3.050h-1.800l.35-3.050a1.100 1.100 0 0 1 .55-2.050z" fill="#f6f2e2"/></g></svg><span class="t">Hot Coffee</span><span class="c"><i>$500</i></span><span class="r"><i>500</i></span></div>
<div class="n g" style="transform:translate(665.8px,331.2px)"><svg width="30" height="27" viewBox="0 0 30 27"><rect x="2.700" y="13.900" width="21.300" height="5.500" fill="#e9e9e5"/><rect x="2.700" y="19.400" width="21.300" height="1.100" fill="#4d5a48"/><rect x="3.200" y="20.500" width="20.300" height="2.500" fill="#9b9b97"/><rect x="9.700" y="6" width="6.800" height="8" rx="1.500" fill="#8f8f8b"/><rect x="10.800" y="8" width="4.600" height="3" fill="#b9b9b5"/><path d="M10.500 4.300l1.300 1.300-1.300 1.300-1.300-1.300zM15.700 4.300l1.300 1.300-1.300 1.300-1.300-1.300zM9.300 7.700l1.100 1.100-1.100 1.100-1.100-1.100zM17 7.700l1.100 1.100-1.100 1.100-1.100-1.100z" fill="#e8ebe4"/><rect x="6.500" y="15.300" width="1.500" height="2.800" fill="#5d655a"/><rect x="10.700" y="15" width="4" height="2.500" fill="#a9a9a5"/><rect x="17.500" y="14.700" width="1.300" height="3.500" fill="#8d948a"/><rect x="20.500" y="15" width="2.500" height="1.500" fill="#c5c5c1"/></svg><span class="t">Cafe</span><span class="c"><i>$750</i></span><span class="r"><i>600</i></span></div>
<div class="n p" style="transform:translate(665.8px,371.2px)"><svg width="30" height="27" viewBox="0 0 30 27"><rect x="2.800" y="3.500" width="21.700" height="20.500" fill="#bcb3c3"/><rect x="2.800" y="3.500" width="2" height="20.500" fill="#e1dce4"/><rect x="4.800" y="3.500" width="19.700" height="1.500" fill="#d2ccd6"/><rect x="5" y="6" width="4.500" height="17" fill="#a6a4a8"/><rect x="18.800" y="6" width="3.200" height="17" fill="#a9a7ab"/><rect x="21" y="19.500" width="2.300" height="2.300" fill="#eeecef"/><rect x="11.300" y="8.500" width="4.200" height="5" rx="1.500" fill="#ece8ee"/><g><path d="M9.500 14.500V9.200a3.850 4.200 0 0 1 7.700 0V14.500" fill="none" stroke="#261803" stroke-width="3.500"/><path d="M9.500 14.500V9.200a3.850 4.200 0 0 1 7.700 0V14.500" fill="none" stroke="#dcc55e" stroke-width="1.350"/><rect x="5.900" y="13.100" width="14.700" height="11.400" rx="1.300" fill="#261803"/><rect x="7.100" y="14.300" width="12.300" height="9" rx=".5" fill="#ebc42f"/><path d="M13.250 15.200a2.300 2.300 0 0 1 1.450 4.050l.6 3.450h-4.100l.6-3.450a2.300 2.300 0 0 1 1.450-4.050z" fill="#261803"/><path d="M13.250 16.400a1.100 1.100 0 0 1 .55 2.050l.35 3.050h-1.800l.35-3.050a1.100 1.100 0 0 1 .55-2.050z" fill="#f6f2e2"/></g></svg><span class="t">Bulk Buy</span><span class="c"><i>$700</i></span><span class="r"><i>1000</i></span></div>
<div class="n p" style="transform:translate(665.8px,411.2px)"><svg width="30" height="27" viewBox="0 0 30 27"><rect x="11.300" y="8.500" width="4.200" height="5" rx="1.500" fill="#857b8d"/><g><path d="M9.500 14.500V9.200a3.850 4.200 0 0 1 7.700 0V14.500" fill="none" stroke="#261803" stroke-width="3.500"/><path d="M9.500 14.500V9.200a3.850 4.200 0 0 1 7.700 0V14.500" fill="none" stroke="#dcc55e" stroke-width="1.350"/><rect x="5.900" y="13.100" width="14.700" height="11.400" rx="1.300" fill="#261803"/><rect x="7.100" y="14.300" width="12.300" height="9" rx=".5" fill="#ebc42f"/><path d="M13.250 15.200a2.300 2.300 0 0 1 1.450 4.050l.6 3.450h-4.100l.6-3.450a2.300 2.300 0 0 1 1.450-4.050z" fill="#261803"/><path d="M13.250 16.400a1.100 1.100 0 0 1 .55 2.050l.35 3.050h-1.800l.35-3.050a1.100 1.100 0 0 1 .55-2.050z" fill="#f6f2e2"/></g></svg><span class="t">Computer Lab</span><span class="c"><i>$700</i></span><span class="r"><i>600</i></span></div>
<div class="n b" style="transform:translate(739.15px,551.2px)"><svg width="30" height="27" viewBox="0 0 30 27"><rect x="3.500" y="3.500" width="20.500" height="17.500" fill="#9b82b3"/><g stroke="#e3d8f1" stroke-width="1"><path d="M3.500 7.900h20.500M3.500 12.250h20.500M3.500 16.600h20.500M8.600 3.500v17.500M13.750 3.500v17.500M18.900 3.500v17.500"/></g><rect x="3.500" y="3.500" width="20.500" height="17.500" fill="none" stroke="#e9e0f4" stroke-width="1.100"/></svg><span class="t">Solar Panels</span><span class="c"><i>$1200</i></span><span class="r"><i>1000</i></span></div>
<div class="n g" style="transform:translate(739.15px,591.2px)"><svg width="30" height="27" viewBox="0 0 30 27"><path d="M12.500 3.500h7L15 11.500h4.200L9 22.800l3-8.300H8z" fill="#f1f1ee"/></svg><span class="t">Surge Protection</span><span class="c"><i>$600</i></span><span class="r"><i>700</i></span></div>
<div class="n p" style="transform:translate(812.5px,131.2px)"><svg width="30" height="27" viewBox="0 0 30 27"><path d="M4 11.400h18" stroke="#a99db0" stroke-width="1"/><circle cx="4" cy="11.400" r="1.200" fill="#e6e2e8"/><circle cx="21.800" cy="11.400" r="1.200" fill="#e6e2e8"/><circle cx="13" cy="10.500" r="2.200" fill="#ebe7ec"/><g><path d="M9.500 14.500V9.200a3.850 4.200 0 0 1 7.700 0V14.500" fill="none" stroke="#261803" stroke-width="3.500"/><path d="M9.500 14.500V9.200a3.850 4.200 0 0 1 7.700 0V14.500" fill="none" stroke="#dcc55e" stroke-width="1.350"/><rect x="5.900" y="13.100" width="14.700" height="11.400" rx="1.300" fill="#261803"/><rect x="7.100" y="14.300" width="12.300" height="9" rx=".5" fill="#ebc42f"/><path d="M13.250 15.200a2.300 2.300 0 0 1 1.450 4.050l.6 3.450h-4.100l.6-3.450a2.300 2.300 0 0 1 1.450-4.050z" fill="#261803"/><path d="M13.250 16.400a1.100 1.100 0 0 1 .55 2.050l.35 3.050h-1.800l.35-3.050a1.100 1.100 0 0 1 .55-2.050z" fill="#f6f2e2"/></g></svg><span class="t">Personal Trainers</span><span class="c"><i>$500</i></span><span class="r"><i>500</i></span></div>
<div class="n p" style="transform:translate(812.5px,331.2px)"><svg width="30" height="27" viewBox="0 0 30 27"><rect x="3" y="7.700" width="2.800" height="11.200" rx="1" fill="#ececec"/><rect x="19.700" y="7.700" width="2.800" height="11.200" rx="1" fill="#ececec"/><path d="M7.500 3.300h11" stroke="#84758b" stroke-width="1"/><path d="M3 10.500h3.500M19 10.500h3.500" stroke="#f6f6f6" stroke-width="2"/><rect x="11.300" y="8.500" width="4.200" height="5" rx="1.500" fill="#ece8ee"/><g><path d="M9.500 14.500V9.200a3.850 4.200 0 0 1 7.700 0V14.500" fill="none" stroke="#261803" stroke-width="3.500"/><path d="M9.500 14.500V9.200a3.850 4.200 0 0 1 7.700 0V14.500" fill="none" stroke="#dcc55e" stroke-width="1.350"/><rect x="5.900" y="13.100" width="14.700" height="11.400" rx="1.300" fill="#261803"/><rect x="7.100" y="14.300" width="12.300" height="9" rx=".5" fill="#ebc42f"/><path d="M13.250 15.200a2.300 2.300 0 0 1 1.450 4.050l.6 3.450h-4.100l.6-3.450a2.300 2.300 0 0 1 1.450-4.050z" fill="#261803"/><path d="M13.250 16.400a1.100 1.100 0 0 1 .55 2.050l.35 3.050h-1.800l.35-3.050a1.100 1.100 0 0 1 .55-2.050z" fill="#f6f2e2"/></g></svg><span class="t">Event Hosting</span><span class="c"><i>$1000</i></span><span class="r"><i>800</i></span></div>
<div class="n p" style="transform:translate(885.85px,91.2px)"><svg width="30" height="27" viewBox="0 0 30 27"><rect x="11.300" y="8.500" width="4.200" height="5" rx="1.500" fill="#857b8d"/><g><path d="M9.500 14.500V9.200a3.850 4.200 0 0 1 7.700 0V14.500" fill="none" stroke="#261803" stroke-width="3.500"/><path d="M9.500 14.500V9.200a3.850 4.200 0 0 1 7.700 0V14.500" fill="none" stroke="#dcc55e" stroke-width="1.350"/><rect x="5.900" y="13.100" width="14.700" height="11.400" rx="1.300" fill="#261803"/><rect x="7.100" y="14.300" width="12.300" height="9" rx=".5" fill="#ebc42f"/><path d="M13.250 15.200a2.300 2.300 0 0 1 1.450 4.050l.6 3.450h-4.100l.6-3.450a2.300 2.300 0 0 1 1.450-4.050z" fill="#261803"/><path d="M13.250 16.400a1.100 1.100 0 0 1 .55 2.050l.35 3.050h-1.800l.35-3.050a1.100 1.100 0 0 1 .55-2.050z" fill="#f6f2e2"/></g></svg><span class="t">Swimming II</span><span class="c"><i>$500</i></span><span class="r"><i>500</i></span></div>
<div class="n b" style="transform:translate(885.85px,211.2px)"><svg width="30" height="27" viewBox="0 0 30 27"><path d="M8 13v-2.200c0-2 1.300-3.300 3.350-3.300s3.350 1.300 3.350 3.300V13z" fill="#ebebeb"/><rect x="8" y="17.800" width="6.700" height="6.200" fill="#ececec"/><rect x="8" y="13" width="6.700" height="4.800" fill="#173d58"/><rect x="10.400" y="5.500" width="1.900" height="2.300" fill="#b9c7cf"/><path d="M13.500 6l3-2M14 7.500l3.500-.8" stroke="#4f7890" stroke-width=".8"/><rect x="9.500" y="19.500" width="3.500" height="2.300" fill="#f1dede"/></svg><span class="t">Rust Protection</span><span class="c"><i>$1500</i></span><span class="r"><i>1000</i></span></div>
<div class="n p" style="transform:translate(885.85px,411.2px)"><svg width="30" height="27" viewBox="0 0 30 27"><g fill="none" stroke="#ece8ee" stroke-width="1.800" stroke-linecap="round"><path d="M6.900 6.600Q2.800 12.200 5 18.500M20.300 6.600Q24.400 12.200 22 18.500"/></g><rect x="11.300" y="10" width="4.200" height="3.500" rx="1" fill="#dcd8de"/><g><path d="M9.500 14.500V9.200a3.850 4.200 0 0 1 7.700 0V14.500" fill="none" stroke="#261803" stroke-width="3.500"/><path d="M9.500 14.500V9.200a3.850 4.200 0 0 1 7.700 0V14.500" fill="none" stroke="#dcc55e" stroke-width="1.350"/><rect x="5.900" y="13.100" width="14.700" height="11.400" rx="1.300" fill="#261803"/><rect x="7.100" y="14.300" width="12.300" height="9" rx=".5" fill="#ebc42f"/><path d="M13.250 15.200a2.300 2.300 0 0 1 1.450 4.050l.6 3.450h-4.100l.6-3.450a2.300 2.300 0 0 1 1.450-4.050z" fill="#261803"/><path d="M13.250 16.400a1.100 1.100 0 0 1 .55 2.050l.35 3.050h-1.800l.35-3.050a1.100 1.100 0 0 1 .55-2.050z" fill="#f6f2e2"/></g></svg><span class="t">Radio</span><span class="c"><i>$700</i></span><span class="r"><i>700</i></span></div>
<div class="n p" style="transform:translate(885.85px,531.2px)"><svg width="30" height="27" viewBox="0 0 30 27"><path d="M4.500 8L8.500 3.200H21.800V24H4.500z" fill="#ebe9ee"/><rect x="10.800" y="6.500" width="5.200" height="7" fill="#3f3448"/><rect x="11.500" y="9.500" width="3.800" height="3" fill="#6e6678"/><g><path d="M9.500 14.500V9.200a3.850 4.200 0 0 1 7.700 0V14.500" fill="none" stroke="#261803" stroke-width="3.500"/><path d="M9.500 14.500V9.200a3.850 4.200 0 0 1 7.700 0V14.500" fill="none" stroke="#dcc55e" stroke-width="1.350"/><rect x="5.900" y="13.100" width="14.700" height="11.400" rx="1.300" fill="#261803"/><rect x="7.100" y="14.300" width="12.300" height="9" rx=".5" fill="#ebc42f"/><path d="M13.250 15.200a2.300 2.300 0 0 1 1.450 4.050l.6 3.450h-4.100l.6-3.450a2.300 2.300 0 0 1 1.450-4.050z" fill="#261803"/><path d="M13.250 16.400a1.100 1.100 0 0 1 .55 2.050l.35 3.050h-1.800l.35-3.050a1.100 1.100 0 0 1 .55-2.050z" fill="#f6f2e2"/></g></svg><span class="t">Tax Advisor</span><span class="c"><i>$1000</i></span><span class="r"><i>800</i></span></div>
<div class="n p" style="transform:translate(885.85px,611.2px)"><svg width="30" height="27" viewBox="0 0 30 27"><rect x="3.500" y="3.800" width="20" height="20.200" fill="#ecebe6"/><g><path d="M9.500 14.500V9.200a3.850 4.200 0 0 1 7.700 0V14.500" fill="none" stroke="#261803" stroke-width="3.500"/><path d="M9.500 14.500V9.200a3.850 4.200 0 0 1 7.700 0V14.500" fill="none" stroke="#dcc55e" stroke-width="1.350"/><rect x="5.900" y="13.100" width="14.700" height="11.400" rx="1.300" fill="#261803"/><rect x="7.100" y="14.300" width="12.300" height="9" rx=".5" fill="#ebc42f"/><path d="M13.250 15.200a2.300 2.300 0 0 1 1.450 4.050l.6 3.450h-4.100l.6-3.450a2.300 2.300 0 0 1 1.450-4.050z" fill="#261803"/><path d="M13.250 16.400a1.100 1.100 0 0 1 .55 2.050l.35 3.050h-1.800l.35-3.050a1.100 1.100 0 0 1 .55-2.050z" fill="#f6f2e2"/></g></svg><span class="t">Superior Flooring</span><span class="c"><i>$1500</i></span><span class="r"><i>900</i></span></div>
<div class="n p" style="transform:translate(1032.55px,171.2px)"><svg width="30" height="27" viewBox="0 0 30 27"><ellipse cx="13.200" cy="13.200" rx="11.200" ry="6.800" fill="#e2dee6"/><rect x="11.300" y="8.500" width="4.200" height="5" rx="1.500" fill="#ece8ee"/><g><path d="M9.500 14.500V9.200a3.850 4.200 0 0 1 7.700 0V14.500" fill="none" stroke="#261803" stroke-width="3.500"/><path d="M9.500 14.500V9.200a3.850 4.200 0 0 1 7.700 0V14.500" fill="none" stroke="#dcc55e" stroke-width="1.350"/><rect x="5.900" y="13.100" width="14.700" height="11.400" rx="1.300" fill="#261803"/><rect x="7.100" y="14.300" width="12.300" height="9" rx=".5" fill="#ebc42f"/><path d="M13.250 15.200a2.300 2.300 0 0 1 1.450 4.050l.6 3.450h-4.100l.6-3.450a2.300 2.300 0 0 1 1.450-4.050z" fill="#261803"/><path d="M13.250 16.400a1.100 1.100 0 0 1 .55 2.050l.35 3.050h-1.800l.35-3.050a1.100 1.100 0 0 1 .55-2.050z" fill="#f6f2e2"/></g></svg><span class="t">Running Track</span><span class="c"><i>$1500</i></span><span class="r"><i>1000</i></span></div>
<div class="n p" style="transform:translate(1032.55px,331.2px)"><svg width="30" height="27" viewBox="0 0 30 27"><rect x="2.800" y="3.500" width="21.700" height="20.500" fill="#bcb3c3"/><rect x="2.800" y="3.500" width="2" height="20.500" fill="#e1dce4"/><rect x="4.800" y="3.500" width="19.700" height="1.500" fill="#d2ccd6"/><rect x="5" y="6" width="4.500" height="17" fill="#a6a4a8"/><rect x="18.800" y="6" width="3.200" height="17" fill="#a9a7ab"/><rect x="21" y="19.500" width="2.300" height="2.300" fill="#eeecef"/><rect x="11.300" y="8.500" width="4.200" height="5" rx="1.500" fill="#ece8ee"/><g><path d="M9.500 14.500V9.200a3.850 4.200 0 0 1 7.700 0V14.500" fill="none" stroke="#261803" stroke-width="3.500"/><path d="M9.500 14.500V9.200a3.850 4.200 0 0 1 7.700 0V14.500" fill="none" stroke="#dcc55e" stroke-width="1.350"/><rect x="5.900" y="13.100" width="14.700" height="11.400" rx="1.300" fill="#261803"/><rect x="7.100" y="14.300" width="12.300" height="9" rx=".5" fill="#ebc42f"/><path d="M13.250 15.200a2.300 2.300 0 0 1 1.450 4.050l.6 3.450h-4.100l.6-3.450a2.300 2.300 0 0 1 1.450-4.050z" fill="#261803"/><path d="M13.250 16.400a1.100 1.100 0 0 1 .55 2.050l.35 3.050h-1.800l.35-3.050a1.100 1.100 0 0 1 .55-2.050z" fill="#f6f2e2"/></g></svg><span class="t">Bowling Alley</span><span class="c"><i>$1000</i></span><span class="r"><i>800</i></span></div>
<div class="n h" style="transform:translate(1032.55px,411.2px)"><svg width="30" height="27" viewBox="0 0 30 27"><rect x="2.800" y="8.500" width="4" height="14" fill="#dedede"/><rect x="19.800" y="8.500" width="4" height="14" fill="#dedede"/><rect x="11" y="7.500" width="5" height="6" fill="#ededed"/><g><path d="M9.500 14.500V9.200a3.850 4.200 0 0 1 7.700 0V14.500" fill="none" stroke="#261803" stroke-width="3.500"/><path d="M9.500 14.500V9.200a3.850 4.200 0 0 1 7.700 0V14.500" fill="none" stroke="#dcc55e" stroke-width="1.350"/><rect x="5.900" y="13.100" width="14.700" height="11.400" rx="1.300" fill="#261803"/><rect x="7.100" y="14.300" width="12.300" height="9" rx=".5" fill="#ebc42f"/><path d="M13.250 15.200a2.300 2.300 0 0 1 1.450 4.050l.6 3.450h-4.100l.6-3.450a2.300 2.300 0 0 1 1.450-4.050z" fill="#261803"/><path d="M13.250 16.400a1.100 1.100 0 0 1 .55 2.050l.35 3.050h-1.800l.35-3.050a1.100 1.100 0 0 1 .55-2.050z" fill="#f6f2e2"/></g></svg><span class="t">Blast Processing</span><span class="c"><i>$1000</i></span><span class="r"><i>1000</i></span></div>
<div class="n p" style="transform:translate(1032.55px,491.2px)"><svg width="30" height="27" viewBox="0 0 30 27"><rect x="11.300" y="8.500" width="4.200" height="5" rx="1.500" fill="#857b8d"/><g><path d="M9.500 14.500V9.200a3.850 4.200 0 0 1 7.700 0V14.500" fill="none" stroke="#261803" stroke-width="3.500"/><path d="M9.500 14.500V9.200a3.850 4.200 0 0 1 7.700 0V14.500" fill="none" stroke="#dcc55e" stroke-width="1.350"/><rect x="5.900" y="13.100" width="14.700" height="11.400" rx="1.300" fill="#261803"/><rect x="7.100" y="14.300" width="12.300" height="9" rx=".5" fill="#ebc42f"/><path d="M13.250 15.200a2.300 2.300 0 0 1 1.450 4.050l.6 3.450h-4.100l.6-3.450a2.300 2.300 0 0 1 1.450-4.050z" fill="#261803"/><path d="M13.250 16.400a1.100 1.100 0 0 1 .55 2.050l.35 3.050h-1.800l.35-3.050a1.100 1.100 0 0 1 .55-2.050z" fill="#f6f2e2"/></g></svg><span class="t">Poaching</span><span class="c"><i>$2000</i></span><span class="r"><i>1500</i></span></div>
<div class="n p" style="transform:translate(1032.55px,571.2px)"><svg width="30" height="27" viewBox="0 0 30 27"><path d="M4.300 6.500c1.300 1 2 2.500 2.200 4.500l.2 8.500h-1.700l-1-4c-2-2.500-2-6.500.3-9zM21.500 6.500c-1.300 1-2 2.500-2.200 4.500l-.2 8.500h1.700l1-4c2-2.500 2-6.500-.3-9z" fill="#f3f1f4"/><rect x="11.300" y="8.500" width="4.200" height="5" rx="1.500" fill="#ece8ee"/><g><path d="M9.500 14.500V9.200a3.850 4.200 0 0 1 7.700 0V14.500" fill="none" stroke="#261803" stroke-width="3.500"/><path d="M9.500 14.500V9.200a3.850 4.200 0 0 1 7.700 0V14.500" fill="none" stroke="#dcc55e" stroke-width="1.350"/><rect x="5.900" y="13.100" width="14.700" height="11.400" rx="1.300" fill="#261803"/><rect x="7.100" y="14.300" width="12.300" height="9" rx=".5" fill="#ebc42f"/><path d="M13.250 15.200a2.300 2.300 0 0 1 1.450 4.050l.6 3.450h-4.100l.6-3.450a2.300 2.300 0 0 1 1.450-4.050z" fill="#261803"/><path d="M13.250 16.400a1.100 1.100 0 0 1 .55 2.050l.35 3.050h-1.800l.35-3.050a1.100 1.100 0 0 1 .55-2.050z" fill="#f6f2e2"/></g></svg><span class="t">Gratuity</span><span class="c"><i>$1500</i></span><span class="r"><i>1500</i></span></div>
<div class="n p" style="transform:translate(1179.25px,111.2px)"><svg width="30" height="27" viewBox="0 0 30 27"><rect x="11.300" y="8.500" width="4.200" height="5" rx="1.500" fill="#857b8d"/><g><path d="M9.500 14.500V9.200a3.850 4.200 0 0 1 7.700 0V14.500" fill="none" stroke="#261803" stroke-width="3.500"/><path d="M9.500 14.500V9.200a3.850 4.200 0 0 1 7.700 0V14.500" fill="none" stroke="#dcc55e" stroke-width="1.350"/><rect x="5.900" y="13.100" width="14.700" height="11.400" rx="1.300" fill="#261803"/><rect x="7.100" y="14.300" width="12.300" height="9" rx=".5" fill="#ebc42f"/><path d="M13.250 15.200a2.300 2.300 0 0 1 1.450 4.050l.6 3.450h-4.100l.6-3.450a2.300 2.300 0 0 1 1.450-4.050z" fill="#261803"/><path d="M13.250 16.400a1.100 1.100 0 0 1 .55 2.050l.35 3.050h-1.800l.35-3.050a1.100 1.100 0 0 1 .55-2.050z" fill="#f6f2e2"/></g></svg></div>
<div class="n p" style="transform:translate(1179.25px,151.2px)"><svg width="30" height="27" viewBox="0 0 30 27"><rect x="11.300" y="8.500" width="4.200" height="5" rx="1.500" fill="#857b8d"/><g><path d="M9.500 14.500V9.200a3.850 4.200 0 0 1 7.700 0V14.500" fill="none" stroke="#261803" stroke-width="3.500"/><path d="M9.500 14.500V9.200a3.850 4.200 0 0 1 7.700 0V14.500" fill="none" stroke="#dcc55e" stroke-width="1.350"/><rect x="5.900" y="13.100" width="14.700" height="11.400" rx="1.300" fill="#261803"/><rect x="7.100" y="14.300" width="12.300" height="9" rx=".5" fill="#ebc42f"/><path d="M13.250 15.200a2.300 2.300 0 0 1 1.450 4.050l.6 3.450h-4.100l.6-3.450a2.300 2.300 0 0 1 1.450-4.050z" fill="#261803"/><path d="M13.250 16.400a1.100 1.100 0 0 1 .55 2.050l.35 3.050h-1.800l.35-3.050a1.100 1.100 0 0 1 .55-2.050z" fill="#f6f2e2"/></g></svg></div>
<div class="n p" style="transform:translate(1179.25px,191.2px)"><svg width="30" height="27" viewBox="0 0 30 27"><rect x="11.300" y="8.500" width="4.200" height="5" rx="1.500" fill="#857b8d"/><g><path d="M9.500 14.500V9.200a3.850 4.200 0 0 1 7.700 0V14.500" fill="none" stroke="#261803" stroke-width="3.500"/><path d="M9.500 14.500V9.200a3.850 4.200 0 0 1 7.700 0V14.500" fill="none" stroke="#dcc55e" stroke-width="1.350"/><rect x="5.900" y="13.100" width="14.700" height="11.400" rx="1.300" fill="#261803"/><rect x="7.100" y="14.300" width="12.300" height="9" rx=".5" fill="#ebc42f"/><path d="M13.250 15.200a2.300 2.300 0 0 1 1.450 4.050l.6 3.450h-4.100l.6-3.450a2.300 2.300 0 0 1 1.450-4.050z" fill="#261803"/><path d="M13.250 16.400a1.100 1.100 0 0 1 .55 2.050l.35 3.050h-1.800l.35-3.050a1.100 1.100 0 0 1 .55-2.050z" fill="#f6f2e2"/></g></svg></div>
<div class="n p" style="transform:translate(1179.25px,231.2px)"><svg width="30" height="27" viewBox="0 0 30 27"><g fill="none" stroke="#ece8ee" stroke-width="1.800" stroke-linecap="round"><path d="M6.900 6.600Q2.800 12.200 5 18.500M20.300 6.600Q24.400 12.200 22 18.500"/></g><rect x="11.300" y="10" width="4.200" height="3.500" rx="1" fill="#dcd8de"/><g><path d="M9.500 14.500V9.200a3.850 4.200 0 0 1 7.700 0V14.500" fill="none" stroke="#261803" stroke-width="3.500"/><path d="M9.500 14.500V9.200a3.850 4.200 0 0 1 7.700 0V14.500" fill="none" stroke="#dcc55e" stroke-width="1.350"/><rect x="5.900" y="13.100" width="14.700" height="11.400" rx="1.300" fill="#261803"/><rect x="7.100" y="14.300" width="12.300" height="9" rx=".5" fill="#ebc42f"/><path d="M13.250 15.200a2.300 2.300 0 0 1 1.450 4.050l.6 3.450h-4.100l.6-3.450a2.300 2.300 0 0 1 1.450-4.050z" fill="#261803"/><path d="M13.250 16.400a1.100 1.100 0 0 1 .55 2.050l.35 3.050h-1.800l.35-3.050a1.100 1.100 0 0 1 .55-2.050z" fill="#f6f2e2"/></g></svg></div>
  <div class="sl" style="left:77px;top:92px">Research Techs</div>
  <div class="sl" style="left:82px;top:132px">Manager Skills</div>
 </div></div>
 <!-- cursor + tooltip -->
 <div id="tip">
  <div style="left:0;top:4px;width:133px;text-align:center;font-size:12px;line-height:14px;font-weight:bold;color:#1b1b1b"><span style="display:inline-block;transform:scaleX(.86)">Blast Processing</span></div>
  <div style="left:2.5px;top:20px;font-size:9px;line-height:12.1px;white-space:pre;color:#2a2a2a;transform:scaleX(.965);transform-origin:0 0">Unlocks:
- Adds computers to Reception
Desks which reduce customer
wait time
- Unlocks new upgrades for your
computers</div>
  <div style="right:2.5px;top:159px;font-size:9px;line-height:11px;color:#2a2a2a;transform:scaleX(.96);transform-origin:100% 0">Time: 1000</div>
 </div>
 <svg width="14" height="18" viewBox="0 0 14 18" style="left:1133px;top:431px"><path d="M1.200 1.500V15.500L4.800 11.800H11.200Z" fill="#dde8ec" stroke="#92a7b3" stroke-width=".5"/></svg>
 <!-- bottom toolbar -->
<div class="tb" style="left:431.0px"><svg width="34" height="34" viewBox="0 0 34 34"><g fill="none" stroke="#bdbdbd" stroke-width="1.300"><path d="M11 8.800v17.200a3 3 0 0 1-6 0V8.800a3 3 0 0 1 6 0zM11 9.300h18v20.200H8.500"/><path d="M13.300 16.600l6.700-4.400 6.600 4.400v5.600h-13.300z"/><rect x="15.300" y="17.200" width="3.200" height="3"/><rect x="21.200" y="17.200" width="3.200" height="3"/></g><rect x="16" y="24.300" width="4" height="2.700" fill="#bdbdbd"/><rect x="21.600" y="24.300" width="4.600" height="2.700" fill="#bdbdbd"/></svg></div><div class="tl" style="left:418.0px">Planner</div>
<div class="tb" style="left:473.7px"><svg width="34" height="34" viewBox="0 0 34 34"><path d="M6 8.500l10-3v17.500l-10 3z" fill="#bdbdbd"/><path d="M18 5.500l10.500 3v17l-10.500-3z" fill="#bdbdbd"/><path d="M9.500 12.500l4-1v8l-4 1z" fill="#060606"/><path d="M21.500 12l4 1v12l-4-1z" fill="#060606"/><path d="M17 23.500l10.500 3.500-10.500 3.500-10.500-3.500z" fill="#bdbdbd"/></svg></div><div class="tl" style="left:460.7px">Room</div>
<div class="tb" style="left:516.3px"><svg width="34" height="34" viewBox="0 0 34 34"><g transform="translate(0 .8) scale(1.23)"><g stroke="#bdbdbd" stroke-linecap="round" fill="none"><path d="M6.300 21.300L18.300 8.500" stroke-width="3"/><path d="M10.300 11.300L20.300 21.300" stroke-width="3"/><path d="M14.300 6.300Q19.300 3.800 23 9.800" stroke-width="2.900" stroke-linecap="butt"/><path d="M21.300 12.600L24.600 9.500" stroke-width="2.700" stroke-linecap="butt"/></g><circle cx="7.600" cy="8.600" r="3.800" fill="#bdbdbd"/><path d="M2.300 3.300L7.600 8.600" stroke="#060606" stroke-width="2.500"/><circle cx="20.300" cy="21.300" r=".8" fill="#060606"/></g></svg></div><div class="tl" style="left:503.3px">Build</div>
<div class="tb" style="left:559.0px"><svg width="34" height="34" viewBox="0 0 34 34"><g fill="none" stroke="#bdbdbd" stroke-width="1.300"><path d="M6.500 8.500h3l3 15.500h13.500"/><path d="M10 10.500h18l-2 10h-13.500z"/><path d="M11 13.700h16.500M11.500 17h15.500M14 10.500l1 10M18 10.500l.5 10M22 10.500v10M25.500 10.500l-.8 10" stroke-width=".9"/><circle cx="15" cy="28" r="1.600"/><circle cx="24" cy="28" r="1.600"/></g></svg></div><div class="tl" style="left:546.0px">Buy</div>
<div class="tb" style="left:601.7px"><svg width="34" height="34" viewBox="0 0 34 34"><rect x="8.500" y="9" width="17.500" height="17.500" rx="3" fill="none" stroke="#bdbdbd" stroke-width="1.700" stroke-dasharray="3.400 1.800"/></svg></div><div class="tl" style="left:588.7px">Zones</div>
<div class="tb" style="left:644.4px"><svg width="34" height="34" viewBox="0 0 34 34"><path d="M17 6c-4 0-6 2.500-6 6.500s2.500 7.500 6 7.500 6-3.500 6-7.500S21 6 17 6z" fill="#bdbdbd"/><path d="M12.500 13c2-.5 4-2.500 5-4.500 1 2 2.500 3.500 4.500 4 0 3.500-2 6.500-5 6.500s-4.500-3-4.500-6z" fill="#060606"/><path d="M7 30v-5.500c0-3 3-4.500 7-5l3 2 3-2c4 .5 7 2 7 5V30z" fill="#bdbdbd"/><path d="M17 21.500l-1.300 1.500 .6 7h1.400l.6-7z" fill="#060606"/></svg></div><div class="tl" style="left:631.4px">Staff</div>
<div class="tb" style="left:687.0px"><svg width="34" height="34" viewBox="0 0 34 34"><path d="M16 5.500h10l-6.500 10h6L11.500 30l4-12.500H10z" fill="#bdbdbd"/></svg></div><div class="tl" style="left:674.0px">Utilities</div>
<div class="tb sel" style="left:729.7px"><svg width="34" height="34" viewBox="0 0 34 34"><g transform="translate(-1 0)"><path d="M15.500 4.500h3l.6 2.800 2.300 1 2.400-1.600 2.100 2.100-1.600 2.400 1 2.300 2.800.6v3l-2.800.6-1 2.300 1.600 2.400-2.100 2.100-2.400-1.600-2.300 1-.6 2.800h-3l-.6-2.800-2.300-1-2.400 1.600-2.100-2.100 1.600-2.400-1-2.300-2.800-.6v-3l2.800-.6 1-2.300-1.600-2.400 2.100-2.100 2.400 1.600 2.300-1z" fill="#bdbdbd"/><circle cx="17" cy="15.500" r="6.300" fill="#060606"/><path d="M13.500 10.500a4 4 0 0 1 5.500 4.800l9.500 9.500a1.700 1.700 0 0 1-2.500 2.500l-9.500-9.700a4 4 0 0 1-5-5.300l2.600 2.500 2-.4.400-2z" fill="#bdbdbd"/></g></svg></div><div class="tl" style="left:716.7px">Research</div>
<div class="tb" style="left:772.4px"><svg width="34" height="34" viewBox="0 0 34 34"><rect x="5.300" y="7.500" width="24.500" height="22" rx="3" fill="#bdbdbd"/><rect x="7.500" y="13.500" width="20" height="13.800" fill="#060606"/><g stroke="#bdbdbd" stroke-width="1.100"><path d="M7.500 18.100h20M7.500 22.700h20M12.500 13.500v13.800M17.500 13.500v13.800M22.500 13.500v13.800"/></g><rect x="13.500" y="16.300" width="8" height="5.600" fill="#bdbdbd"/><rect x="15.500" y="17.800" width="4" height="2.600" fill="#060606"/><rect x="10.300" y="4.300" width="2.600" height="6.500" rx="1.300" fill="#bdbdbd" stroke="#060606" stroke-width="1"/><rect x="22.300" y="4.300" width="2.600" height="6.500" rx="1.300" fill="#bdbdbd" stroke="#060606" stroke-width="1"/></svg></div><div class="tl" style="left:759.4px">Events</div>
<div class="tb" style="left:815.0px"><svg width="34" height="34" viewBox="0 0 34 34"><g stroke="#bdbdbd" fill="none"><path d="M6 5.500v23.500h23" stroke-width="1.600"/><path d="M6.500 21l9.500-8 4 3.500 8.500-9" stroke-width="1.600"/><path d="M24.500 6.500h4.500v4.500" stroke-width="1.600"/><path d="M10 29v-5.500M14 29v-8M18 29v-10M22 29v-7M26 29v-11" stroke-width="2"/></g></svg></div><div class="tl" style="left:802.0px">Stats</div>
 <div class="foot" style="left:6px;top:707px;transform:scaleX(.928);transform-origin:0 0">Rec Center Tycoon Early Access 0.7.0</div>
 <div class="foot" style="right:6.5px;top:707px;transform:scaleX(.924);transform-origin:100% 0">Report bugs to RecCenterTycoon@Gmail.com</div>
</div>
</body></html>
